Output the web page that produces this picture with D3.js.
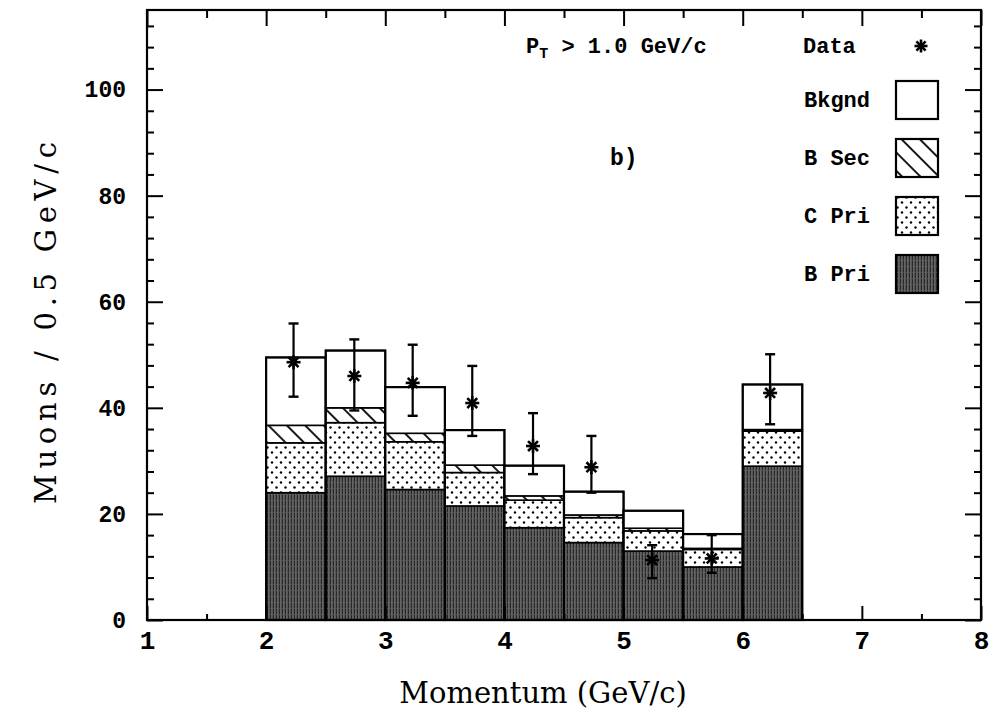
<!DOCTYPE html>
<html><head><meta charset="utf-8">
<script src="https://cdn.jsdelivr.net/npm/d3@7"></script>
<style>
body{margin:0;background:#fff;}
svg{display:block;}
</style></head>
<body>
<svg id="chart" width="994" height="717"></svg>
<script>
// ---- data ----
const binEdges = [2, 2.5, 3, 3.5, 4, 4.5, 5, 5.5, 6, 6.5];
const bPri  = [24.0, 27.1, 24.6, 21.5, 17.4, 14.6, 13.0, 10.0, 29.0];
const cPri  = [9.4, 10.1, 9.0, 6.3, 5.2, 4.7, 3.8, 3.3, 6.6];
const bSec  = [3.3, 2.8, 1.6, 1.4, 0.8, 0.5, 0.5, 0.2, 0.3];
const bkgnd = [12.8, 10.8, 8.7, 6.6, 5.7, 4.4, 3.3, 2.7, 8.5];
const dataX  = [2.23, 2.74, 3.23, 3.73, 4.24, 4.73, 5.24, 5.74, 6.23];
const dataY  = [48.6, 46.0, 44.7, 40.9, 32.8, 28.8, 11.3, 11.6, 42.8];
const errLo  = [42.1, 39.5, 38.5, 34.7, 27.5, 24.0, 7.9, 8.9, 36.9];
const errHi  = [55.9, 52.9, 51.9, 47.9, 39.0, 34.7, 14.1, 16.0, 50.1];
const xTicks = [1, 2, 3, 4, 5, 6, 7, 8];
const yTicks = [0, 20, 40, 60, 80, 100];
const legendLabels = ["Bkgnd", "B Sec", "C Pri", "B Pri"];

const svg = d3.select("#chart");
const L = 147, R = 981, T = 10, B = 620;
const x = d3.scaleLinear().domain([1, 8]).range([L, R]);
const y = d3.scaleLinear().domain([0, 115]).range([B, T]);

// ---- patterns ----
const defs = svg.append("defs");
const pB = defs.append("pattern").attr("id","bpri").attr("patternUnits","userSpaceOnUse")
  .attr("width",3).attr("height",6);
pB.append("rect").attr("width",3).attr("height",6).attr("fill","#262626");
pB.append("rect").attr("x",1.5).attr("width",0.9).attr("height",6).attr("fill","#a0a0a0");
pB.append("rect").attr("x",0.3).attr("y",2).attr("width",0.5).attr("height",1).attr("fill","#777");
const pC = defs.append("pattern").attr("id","cpri").attr("patternUnits","userSpaceOnUse")
  .attr("width",9).attr("height",10);
pC.append("rect").attr("width",9).attr("height",10).attr("fill","#fff");
pC.append("circle").attr("cx",2).attr("cy",2.5).attr("r",1.2).attr("fill","#000");
pC.append("circle").attr("cx",6.5).attr("cy",7.5).attr("r",1.2).attr("fill","#000");
const pS = defs.append("pattern").attr("id","bsec").attr("patternUnits","userSpaceOnUse")
  .attr("width",13).attr("height",13).attr("patternTransform","rotate(-45)");
pS.append("rect").attr("width",13).attr("height",13).attr("fill","#fff");
pS.append("line").attr("x1",6).attr("x2",6).attr("y1",0).attr("y2",13).attr("stroke","#000").attr("stroke-width",1.8);

// ---- stacked bars ----
const layers = [
  {vals: bPri, fill: "url(#bpri)"},
  {vals: cPri, fill: "url(#cpri)"},
  {vals: bSec, fill: "url(#bsec)"},
  {vals: bkgnd, fill: "#fff"}
];
const gBars = svg.append("g");
for (let i = 0; i < bPri.length; i++) {
  let base = 0;
  layers.forEach(l => {
    const v = l.vals[i];
    gBars.append("rect")
      .attr("x", x(binEdges[i])).attr("width", x(binEdges[i+1]) - x(binEdges[i]))
      .attr("y", y(base + v)).attr("height", y(base) - y(base + v))
      .attr("fill", l.fill).attr("stroke", "#000").attr("stroke-width", 1.6);
    base += v;
  });
  gBars.append("rect")
    .attr("x", x(binEdges[i])).attr("width", x(binEdges[i+1]) - x(binEdges[i]))
    .attr("y", y(base)).attr("height", y(0) - y(base))
    .attr("fill", "none").attr("stroke", "#000").attr("stroke-width", 2.2);
}

// ---- frame & axes ----
const fontLab = "'Liberation Mono', 'DejaVu Sans Mono', monospace";
svg.append("rect").attr("x", L).attr("y", T).attr("width", R - L).attr("height", B - T)
  .attr("fill", "none").attr("stroke", "#000").attr("stroke-width", 2.2);

function styleAxis(g, size) {
  g.select(".domain").remove();
  g.selectAll(".tick line").attr("stroke", "#000").attr("stroke-width", 2);
  if (size) g.selectAll(".tick text").attr("font-family", fontLab).attr("font-weight", "bold")
      .attr("font-size", size).attr("fill", "#000");
  else g.selectAll(".tick text").remove();
}
const yMinor = d3.range(0, 116, 4).filter(v => v % 20 !== 0);
const xMinor = d3.range(1.5, 8, 1);

const gl = svg.append("g").attr("transform", `translate(${L},0)`)
  .call(d3.axisLeft(y).tickValues(yTicks).tickSize(-16).tickPadding(21).tickFormat(d3.format("d")));
styleAxis(gl, 23);
svg.append("g").attr("transform", `translate(${L},0)`)
  .call(d3.axisLeft(y).tickValues(yMinor).tickSize(-7).tickFormat("")).call(g => styleAxis(g, 0));
svg.append("g").attr("transform", `translate(${R},0)`)
  .call(d3.axisRight(y).tickValues(yTicks).tickSize(-16).tickFormat("")).call(g => styleAxis(g, 0));
svg.append("g").attr("transform", `translate(${R},0)`)
  .call(d3.axisRight(y).tickValues(yMinor).tickSize(-7).tickFormat("")).call(g => styleAxis(g, 0));

const gb = svg.append("g").attr("transform", `translate(0,${B})`)
  .call(d3.axisBottom(x).tickValues(xTicks).tickSize(-14).tickPadding(11).tickFormat(d3.format("d")));
styleAxis(gb, 26);
svg.append("g").attr("transform", `translate(0,${B})`)
  .call(d3.axisBottom(x).tickValues(xMinor).tickSize(-6).tickFormat("")).call(g => styleAxis(g, 0));
svg.append("g").attr("transform", `translate(0,${T})`)
  .call(d3.axisTop(x).tickValues(xTicks).tickSize(-16).tickFormat("")).call(g => styleAxis(g, 0));
svg.append("g").attr("transform", `translate(0,${T})`)
  .call(d3.axisTop(x).tickValues(xMinor).tickSize(-8).tickFormat("")).call(g => styleAxis(g, 0));

// ---- data points ----
function star(g, cx, cy, r) {
  [0, 45, 90, 135].forEach(a => {
    const rad = a * Math.PI / 180;
    g.append("line").attr("x1", cx - r * Math.sin(rad)).attr("y1", cy - r * Math.cos(rad))
      .attr("x2", cx + r * Math.sin(rad)).attr("y2", cy + r * Math.cos(rad))
      .attr("stroke", "#000").attr("stroke-width", 2.6);
  });
}
const gD = svg.append("g");
dataX.forEach((dx, i) => {
  const cx = x(dx);
  gD.append("line").attr("x1", cx).attr("x2", cx).attr("y1", y(errLo[i])).attr("y2", y(errHi[i]))
    .attr("stroke", "#000").attr("stroke-width", 2.2);
  [errLo[i], errHi[i]].forEach(v => gD.append("line").attr("x1", cx - 5).attr("x2", cx + 5)
    .attr("y1", y(v)).attr("y2", y(v)).attr("stroke", "#000").attr("stroke-width", 2.4));
  star(gD, cx, y(dataY[i]), 7);
});

// ---- legend ----
const lg = svg.append("g").attr("font-family", fontLab).attr("font-weight", "bold").attr("font-size", 22);
lg.append("text").attr("x", 803).attr("y", 53).text("Data");
star(lg, 921, 46, 6.5);
const fills = ["#fff", "url(#bsec)", "url(#cpri)", "url(#bpri)"];
legendLabels.forEach((lab, i) => {
  const yc = 100 + i * 58;
  lg.append("text").attr("x", 804).attr("y", yc + 7).text(lab);
  lg.append("rect").attr("x", 896).attr("y", yc - 19).attr("width", 42).attr("height", 38)
    .attr("fill", fills[i]).attr("stroke", "#000").attr("stroke-width", 2.2);
});

// annotations
const ann = svg.append("text").attr("x", 526).attr("y", 53).attr("font-family", fontLab)
  .attr("font-weight", "bold").attr("font-size", 22);
ann.append("tspan").text("P");
ann.append("tspan").attr("font-size", 15).attr("dy", 5).text("T");
ann.append("tspan").attr("dy", -5).text(" > 1.0 GeV/c");
svg.append("text").attr("x", 610).attr("y", 165).attr("font-family", fontLab)
  .attr("font-weight", "bold").attr("font-size", 23).text("b)");

// axis titles
const fontTitle = "'DejaVu Serif', 'Liberation Serif', serif";
svg.append("text").attr("x", 543).attr("y", 703).attr("text-anchor", "middle")
  .attr("font-family", fontTitle).attr("font-size", 29).text("Momentum (GeV/c)");
svg.append("text").attr("transform", "translate(56,323) rotate(-90)").attr("text-anchor", "middle")
  .attr("font-family", fontTitle).attr("font-size", 29)
  .attr("textLength", 362).attr("lengthAdjust", "spacing")
  .text("Muons / 0.5 GeV/c");
</script>
</body></html>
